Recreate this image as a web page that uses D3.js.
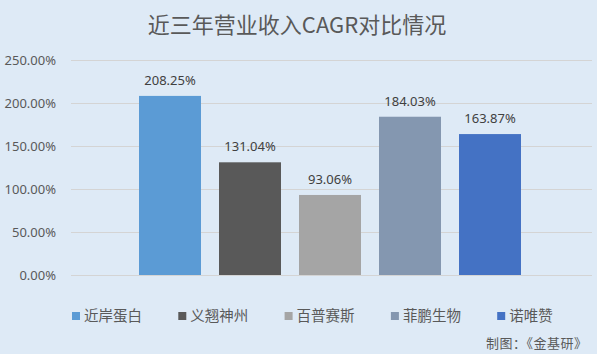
<!DOCTYPE html>
<html>
<head>
<meta charset="utf-8">
<script src="https://cdn.jsdelivr.net/npm/d3@7"></script>
<style>
  html, body { margin: 0; padding: 0; background: #DEEAF6; }
  text { font-family: "Noto Sans", "Noto Sans CJK SC", sans-serif; }
</style>
</head>
<body>
<div id="app"></div>
<script>
'use strict'
const companies = ['近岸蛋白', '义翘神州', '百普赛斯', '菲鹏生物', '诺唯赞']
const cagr = [208.25, 131.04, 93.06, 184.03, 163.87]
const colors = ['#5B9BD5', '#595959', '#A5A5A5', '#8497B0', '#4472C4']
const yTicks = [0, 50, 100, 150, 200, 250]

const W = 597, H = 354
const margin = { top: 60, right: 5, bottom: 79, left: 71 }

const svg = d3.select('#app').append('svg')
  .attr('width', W)
  .attr('height', H)
  .style('display', 'block')
  .style('background-color', '#DEEAF6')

// one category, five series side by side
const x = d3.scaleBand()
  .domain(companies)
  .range([margin.left, margin.left + 518])
  .paddingInner(0.225)
  .paddingOuter(0.85)

const y = d3.scaleLinear()
  .domain([0, 250])
  .range([H - margin.bottom, margin.top])

// title
svg.append('text')
  .attr('x', 297)
  .attr('y', 33)
  .attr('text-anchor', 'middle')
  .style('font-family', '"Noto Sans CJK SC", sans-serif')
  .style('font-size', '22px')
  .style('fill', '#595959')
  .text('近三年营业收入CAGR对比情况')

// y axis with gridlines
const yAxis = svg.append('g')
  .attr('transform', `translate(${margin.left},0)`)
  .call(d3.axisLeft(y)
    .tickValues(yTicks)
    .tickSize(-(W - margin.right - margin.left))
    .tickPadding(15)
    .tickFormat(d => d.toFixed(2) + '%'))
yAxis.select('.domain').remove()
yAxis.selectAll('line').attr('stroke', '#D4D4D4').attr('stroke-width', 1)
yAxis.selectAll('text')
  .style('font-size', '13px')
  .style('fill', '#595959')
  .style('font-family', '"Noto Sans", sans-serif')

// bars
svg.selectAll('rect.bar')
  .data(cagr)
  .enter()
  .append('rect')
  .attr('class', 'bar')
  .attr('x', (d, i) => x(companies[i]))
  .attr('y', d => y(d))
  .attr('width', x.bandwidth())
  .attr('height', d => y(0) - y(d))
  .style('fill', (d, i) => colors[i])

// value labels
svg.selectAll('text.val')
  .data(cagr)
  .enter()
  .append('text')
  .attr('class', 'val')
  .attr('x', (d, i) => x(companies[i]) + x.bandwidth() / 2)
  .attr('y', d => y(d) - 11)
  .attr('text-anchor', 'middle')
  .style('font-size', '13px')
  .style('fill', '#404040')
  .text(d => d.toFixed(2) + '%')

// legend
const legend = svg.append('g')
  .selectAll('g')
  .data(companies)
  .enter()
  .append('g')
  .attr('transform', (d, i) => `translate(${72 + i * 106.3},312)`)

legend.append('rect')
  .attr('width', 8)
  .attr('height', 8)
  .style('fill', (d, i) => colors[i])

legend.append('text')
  .attr('x', 12)
  .attr('y', 9)
  .style('font-family', '"Noto Sans CJK SC", sans-serif')
  .style('font-size', '14.5px')
  .style('fill', '#595959')
  .text(d => d)

// source note
svg.append('text')
  .attr('x', 587)
  .attr('y', 348)
  .attr('text-anchor', 'end')
  .attr('textLength', 101)
  .attr('lengthAdjust', 'spacing')
  .style('font-family', '"Noto Sans CJK SC", sans-serif')
  .style('font-size', '13px')
  .style('fill', '#595959')
  .text('制图：《金基研》')
</script>
</body>
</html>
